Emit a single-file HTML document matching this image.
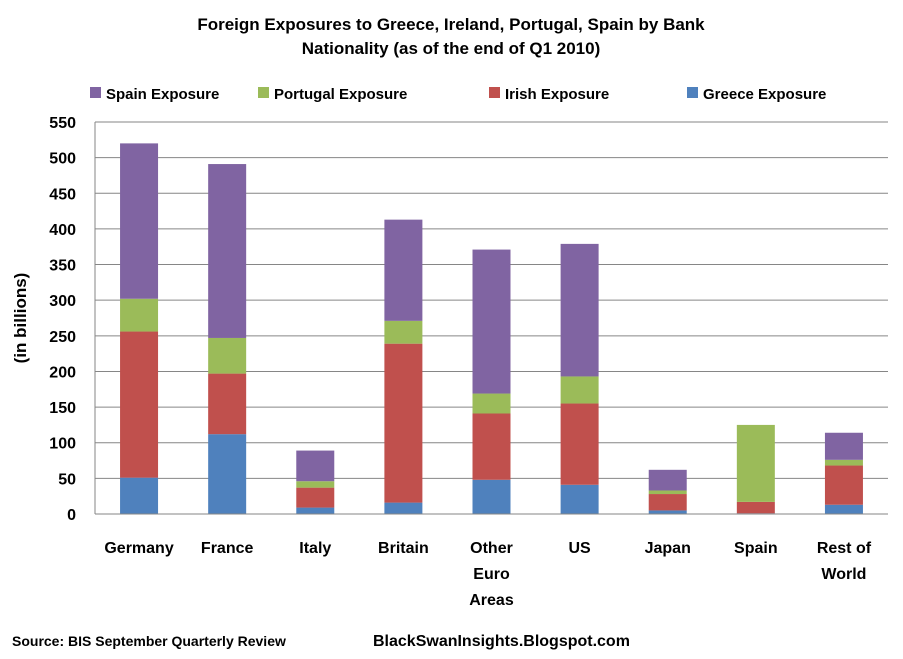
<!DOCTYPE html>
<html><head><meta charset="utf-8"><style>
body{margin:0;background:#fff;font-family:"Liberation Sans",sans-serif}
svg text{font-family:"Liberation Sans",sans-serif;font-weight:bold;fill:#000}
</style></head><body>
<svg id="chart" width="903" height="654">
<text x="451" y="30" font-size="17" text-anchor="middle">Foreign Exposures to Greece, Ireland, Portugal, Spain by Bank</text>
<text x="451" y="54" font-size="17" text-anchor="middle">Nationality (as of the end of Q1 2010)</text>
<g id="legend"></g>
<g id="grid"></g>
<g id="bars"></g>
<g id="axes"></g>
<text transform="translate(26,318) rotate(-90)" font-size="17" text-anchor="middle">(in billions)</text>
<text x="12" y="646" font-size="14">Source: BIS September Quarterly Review</text>
<text x="373" y="646" font-size="16">BlackSwanInsights.Blogspot.com</text>
</svg>
<script>
const categories=[["Germany"],["France"],["Italy"],["Britain"],["Other","Euro","Areas"],["US"],["Japan"],["Spain"],["Rest of","World"]];
const greece=[51,112,9,16,48,41,5,1,13];
const irish=[205,85,28,223,93,114,23,16,55];
const portugal=[46,50,9,32,28,38,5,108,8];
const spain=[218,244,43,142,202,186,29,0,38];
const yTicks=[0,50,100,150,200,250,300,350,400,450,500,550];
const seriesNames=["Spain Exposure","Portugal Exposure","Irish Exposure","Greece Exposure"];
const colors={greece:"#4F81BD",irish:"#C0504D",portugal:"#9BBB59",spain:"#8064A2"};
const NS="http://www.w3.org/2000/svg";
const x0=95,x1=888,y0=514,y1=122,yMax=550;
const y=v=>y0-(v/yMax)*(y0-y1);
const step=(x1-x0)/categories.length;
const xc=i=>x0+step*(i+0.5);
const bw=38;
function mk(tag,attrs,parent){const e=document.createElementNS(NS,tag);for(const k in attrs)e.setAttribute(k,attrs[k]);parent.appendChild(e);return e;}
const grid=document.getElementById("grid"),axes=document.getElementById("axes"),bars=document.getElementById("bars"),legend=document.getElementById("legend");
yTicks.forEach(t=>{
 if(t>0){const l=mk("line",{x1:x0,x2:x1,y1:y(t),y2:y(t),stroke:"#868686","stroke-width":1},grid);
 
 }
 const tx=mk("text",{x:76,y:y(t)+6,"font-size":16,"text-anchor":"end"},axes);tx.textContent=t;
 
 
});
const ax=mk("line",{x1:x0,x2:x1,y1:y0,y2:y0,stroke:"#868686"},axes);


const ay=mk("line",{x1:x0,x2:x0,y1:y1,y2:y0,stroke:"#868686"},axes);


const order=[["greece",greece],["irish",irish],["portugal",portugal],["spain",spain]];
categories.forEach((c,i)=>{
 let cum=0;
 order.forEach(([k,arr])=>{
  const v=arr[i];
  const r=mk("rect",{x:xc(i)-bw/2,y:y(cum+v),width:bw,height:y(cum)-y(cum+v),fill:colors[k]},bars);
  
  
  cum+=v;
 });
 c.forEach((line,j)=>{
  const t=mk("text",{x:xc(i),y:553+j*26,"font-size":16,"text-anchor":"middle"},axes);t.textContent=line;
  
  
 });
});
const legX=[90,258,489,687],legKeys=["spain","portugal","irish","greece"];
seriesNames.forEach((n,i)=>{
 const r=mk("rect",{x:legX[i],y:87,width:11,height:11,fill:colors[legKeys[i]]},legend);
 
 
 const t=mk("text",{x:legX[i]+16,y:99,"font-size":15},legend);t.textContent=n;
 
 
});
</script>
</body></html>
